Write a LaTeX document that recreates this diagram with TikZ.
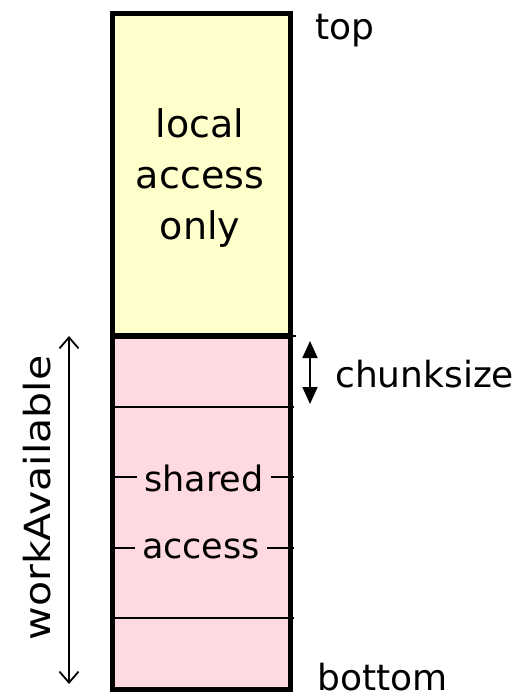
\documentclass[tikz,border=0pt]{standalone}
\usepackage{fontspec}
\usepackage{graphicx}
\setmainfont{DejaVu Sans}
\usetikzlibrary{arrows.meta}
\definecolor{localfill}{HTML}{FFFFCC}
\definecolor{sharedfill}{HTML}{FFD9E1}
\tikzset{
  lbl/.style={inner sep=0pt, font=\fontsize{36}{50}\selectfont},
  inlbl/.style={inner xsep=7pt, inner ysep=0pt, fill=sharedfill, anchor=base,
                font=\fontsize{35}{44}\selectfont},
  thinline/.style={line width=2pt},
  border/.style={line width=5pt},
  dim/.style={line width=1.8pt},
}
\begin{document}
\begin{tikzpicture}[x=1pt, y=-1pt]
  \useasboundingbox (0,0) rectangle (531,698);

  % stack regions
  \fill[localfill] (112,14) rectangle (290,336);
  \fill[sharedfill] (112,336) rectangle (290,689);

  % box corners and row boundaries
  \coordinate (TL) at (112,14);
  \coordinate (BR) at (290,689);
  \coordinate (M0) at (112,336);
  \coordinate (M0r) at (290,336);
  \coordinate (M0t) at (296,336);
  \foreach \i/\y in {1/406.6, 2/477.2, 3/547.8, 4/618.4} {
    \coordinate (L\i) at (112,\y);
    \coordinate (R\i) at (294,\y);
  }

  % labels inside
  \node[lbl, font=\fontsize{38}{51}\selectfont, align=center] (local) at (200,178)
    {local\\access\\only};
  \node[inlbl] (shared) at (204,491) {shared};
  \node[inlbl] (access) at (201,558) {access};

  % row lines
  \draw[thinline] (L1) -- (R1);
  \draw[thinline] (L4) -- (R4);
  \draw[thinline] (L2) -- (L2 -| shared.west);
  \draw[thinline] (L2 -| shared.east) -- (R2);
  \draw[thinline] (L3) -- (L3 -| access.west);
  \draw[thinline] (L3 -| access.east) -- (R3);

  % outer border and top/shared boundary
  \draw[border] (TL) rectangle (BR);
  \draw[line width=6pt] (M0) -- (M0r);
  \draw[thinline] (M0r) -- (M0t);

  % outside labels
  \node[lbl, anchor=base west] (top) at (315,40) {top};
  \node[lbl, anchor=base west] (bottom) at (317,690) {bottom};
  \node[lbl, anchor=base west] (chunk) at (335,387) {chunksize};
  \node[lbl, anchor=base, rotate=90] (work) at (50,498)
    {\scalebox{1.14}[1]{workAvailable}};

  % dimension arrows
  \coordinate (c1) at (310,341);
  \coordinate (c2) at (310,404);
  \draw[dim, {Triangle[length=17pt,width=15pt]}-{Triangle[length=17pt,width=15pt]}] (c1) -- (c2);
  \coordinate (w1) at (69,336);
  \coordinate (w2) at (69,684);
  \draw[dim, {Straight Barb[length=11pt,width=19pt]}-{Straight Barb[length=11pt,width=19pt]}] (w1) -- (w2);
\end{tikzpicture}
\end{document}
